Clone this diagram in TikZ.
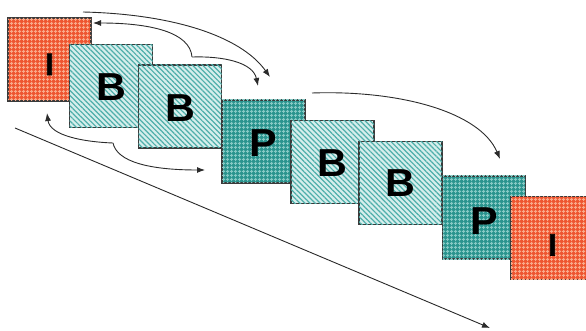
\documentclass[tikz,border=0pt]{standalone}
\usepackage{fontspec}
\setmainfont{Liberation Sans}
\newfontfamily\letterfont{Liberation Sans}[FakeStretch=1.06]
\newfontfamily\stemfont{Liberation Sans Bold}[FakeBold=2.5]
\usetikzlibrary{patterns.meta,arrows.meta}

\definecolor{iBase}{HTML}{EE5530}
\definecolor{iGrid}{HTML}{F9A98A}
\definecolor{bBase}{HTML}{D6EEEC}
\definecolor{bLine}{HTML}{4EAEAA}
\definecolor{pBase}{HTML}{2A948E}
\definecolor{pGrid}{HTML}{86C9C4}
\definecolor{edge}{HTML}{3A3A3A}
\definecolor{wire}{HTML}{2B2B2B}

\tikzset{
  frame/.style={draw=edge, line width=1.2pt, minimum width=83pt, minimum height=83pt,
    inner sep=0pt, font=\letterfont\bfseries\fontsize{39}{39}\selectfont, text depth=0pt},
  drop/.style={text height=27.9pt+2*#1},
  idrop/.style={text height=22.2pt+2*#1},
  iframe/.style={frame, font=\stemfont\fontsize{31}{31}\selectfont, fill=iBase,
    postaction={pattern={Hatch[angle=0,distance=4pt,line width=1.1pt]}, pattern color=iGrid}},
  bframe/.style={frame, fill=bBase,
    postaction={pattern={Lines[angle=-45,distance=3.6pt,line width=1.2pt]}, pattern color=bLine}},
  pframe/.style={frame, fill=pBase,
    postaction={pattern={Hatch[angle=0,distance=4pt,line width=1pt]}, pattern color=pGrid}},
  ref/.style={draw=wire, line width=0.9pt, -{Latex[length=8pt,width=6pt]}},
}

\begin{document}
\begin{tikzpicture}[x=1pt,y=-1pt]
  \clip (0,0) rectangle (586,331);

  % display order of the frames, each one over the previous
  \node[iframe, idrop=4.5pt] (f1) at (49.5,59.5)  {I};
  \node[bframe, drop=0.7pt]  (f2) at (111,86)     {B};
  \node[bframe, drop=1pt]    (f3) at (180,106.5)  {B};
  \node[pframe, drop=1pt]    (f4) at (263.5,141.5){P};
  \node[bframe, drop=0.5pt]  (f5) at (332.5,162)  {B};
  \node[bframe, drop=0pt]    (f6) at (400.5,183)  {B};
  \node[pframe, drop=3pt]    (f7) at (484,217.5)  {P};
  \node[iframe, idrop=6.5pt] (f8) at (552.5,238)  {I};

  % end points of the prediction arrows
  \coordinate (iTop)   at (83,12);
  \coordinate (iRight) at (93,23);
  \coordinate (iLow)   at (47,113);
  \coordinate (bTwo)   at (113,143);
  \coordinate (bThree) at (192,57);
  \coordinate (pTopA)  at (270,77);
  \coordinate (pTopB)  at (258,86);
  \coordinate (pLeft)  at (205,170);
  \coordinate (pFrom)  at (312,93);
  \coordinate (pTo)    at (500,159);
  \coordinate (tStart) at (15,128);
  \coordinate (tEnd)   at (490,328);

  % I -> P
  \draw[ref] (iTop) .. controls (170,14) and (240,35) .. (pTopA);
  % B -> I and B -> P, upper pair
  \draw[ref] (bThree) .. controls (190,32) and (150,23) .. (iRight);
  \draw[ref] (bThree) .. controls (222,56) and (253,62) .. (pTopB);
  % B -> I and B -> P, lower pair
  \draw[ref] (bTwo) .. controls (85,142) and (50,136) .. (iLow);
  \draw[ref] (bTwo) .. controls (117,162) and (150,170) .. (pLeft);
  % P -> P
  \draw[ref] (pFrom) .. controls (400,90) and (480,112) .. (pTo);
  % time axis
  \draw[ref] (tStart) -- (tEnd);
\end{tikzpicture}
\end{document}
